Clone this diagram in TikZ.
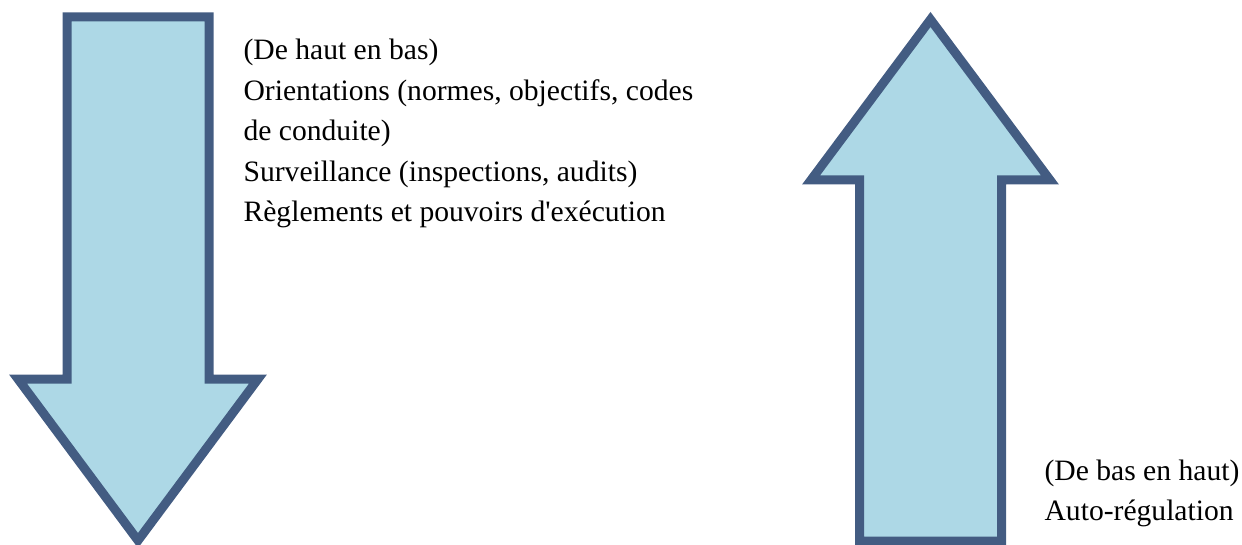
\documentclass[tikz,border=0pt]{standalone}
\usepackage{fontspec}
\setmainfont{Liberation Serif}
\definecolor{arrowfill}{RGB}{173,216,230}
\definecolor{arrowline}{RGB}{67,92,130}
\tikzset{
  bigarrow/.style={draw=arrowline, fill=arrowfill, line width=9pt, miter limit=10, line join=miter},
  txt/.style={anchor=base west, inner sep=0pt, outer sep=0pt, font=\fontsize{29.6}{40.5}\selectfont, text=black}
}
\begin{document}
\begin{tikzpicture}[x=1pt,y=-1pt]
\useasboundingbox (0,0) rectangle (1242,545);
% left arrow (downwards)
\draw[bigarrow] (67,17) -- (209,17) -- (209,379) -- (258,379) -- (138,540.5) -- (18,379) -- (67,379) -- cycle;
% right arrow (upwards)
\draw[bigarrow] (859.5,541) -- (1001.5,541) -- (1001.5,180) -- (1050,180) -- (930.5,19.5) -- (811,180) -- (859.5,180) -- cycle;
% left texts
\node[txt] (t1) at (243.6,60) {(De haut en bas)};
\node[txt] (t2) at (243.6,100.5) {Orientations (normes, objectifs, codes};
\node[txt] (t3) at (243.6,141) {de conduite)};
\node[txt] (t4) at (243.6,181.5) {Surveillance (inspections, audits)};
\node[txt] (t5) at (243.6,222) {Règlements et pouvoirs d\textquotesingle exécution};
% right texts
\node[txt] (r1) at (1044.6,480) {(De bas en haut)};
\node[txt] (r2) at (1044.6,520) {Auto-régulation};
\end{tikzpicture}
\end{document}
